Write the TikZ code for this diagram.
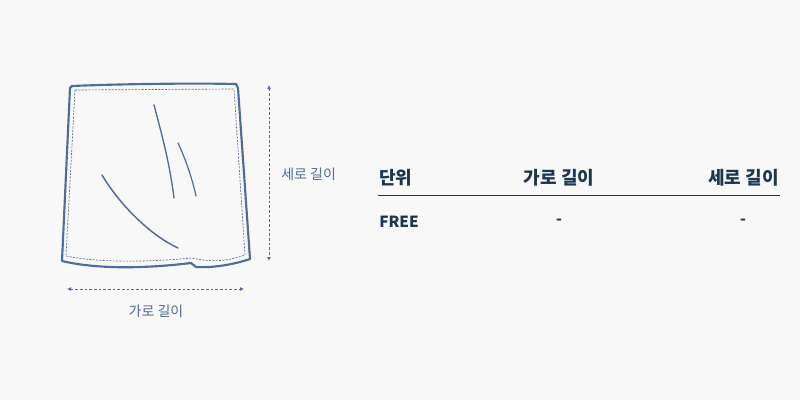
\documentclass[tikz,border=0pt]{standalone}
\usepackage{fontspec}
\newfontfamily\kr{Noto Sans CJK KR}
\definecolor{bg}{HTML}{F8F8F8}
\definecolor{ol}{HTML}{4E6C9C}
\definecolor{nv}{HTML}{1C3550}
\begin{document}
\begin{tikzpicture}[x=0.75pt,y=-0.75pt,
  lbl/.style={font=\kr\fontsize{10.5}{12}\selectfont,text=ol,inner sep=0},
  th/.style={font=\kr\bfseries\fontsize{13.5}{15}\selectfont,text=nv,inner sep=0},
  td/.style={font=\kr\bfseries\fontsize{11.5}{14}\selectfont,text=nv,inner sep=0},
  dim/.style={ol,dashed,dash pattern=on 2pt off 1.5pt,line width=0.6pt,{Latex[length=3pt,width=3pt]}-{Latex[length=3pt,width=3pt]}}]
\usetikzlibrary{arrows.meta}
\fill[bg] (0,0) rectangle (800,400);
\useasboundingbox (0,0) rectangle (800,400);
% outline
\draw[ol,line width=1.6pt,line join=round] (72,86) .. controls (120,84) and (190,83) .. (236,84)
 -- (238,88) -- (250,259) .. controls (235,264) and (215,268) .. (196,267)
 -- (191,263) .. controls (150,268) and (100,270) .. (62,261) -- (70,88) -- cycle;
\draw[ol,line width=0.5pt,dashed,dash pattern=on 1.5pt off 1pt] (75,90) -- (234,89) -- (245,255)
 .. controls (225,262) and (210,262) .. (192,258) .. controls (150,262) and (100,263) .. (66,256) -- cycle;
% folds
\draw[ol,line width=1pt,line cap=round] (154,105) .. controls (162,135) and (170,165) .. (174,198);
\draw[ol,line width=0.9pt,line cap=round] (178,143) .. controls (186,160) and (192,178) .. (196,196);
\draw[ol,line width=1.1pt,line cap=round] (102,175) .. controls (120,205) and (150,235) .. (178,248);
% dims
\coordinate (v1) at (269,85); \coordinate (v2) at (269,261);
\draw[dim] (v1) -- (v2);
\coordinate (h1) at (67,289); \coordinate (h2) at (244,289);
\draw[dim] (h1) -- (h2);
\node[lbl,anchor=west] (sv) at (281,174) {세로 길이};
\node[lbl] (gv) at (156,311) {가로 길이};
% table
\node[th,anchor=west] (t1) at (379,178) {단위};
\node[th] (t2) at (559,178) {가로 길이};
\node[th,anchor=east] (t3) at (779,178) {세로 길이};
\coordinate (l1) at (378,195); \coordinate (l2) at (780,195);
\draw[nv,line width=0.7pt] (l1) -- (l2);
\node[td,anchor=west] (r1) at (379,222) {FREE};
\node[td] (r2) at (559,222) {-};
\node[td] (r3) at (743,222) {-};
\end{tikzpicture}
\end{document}
